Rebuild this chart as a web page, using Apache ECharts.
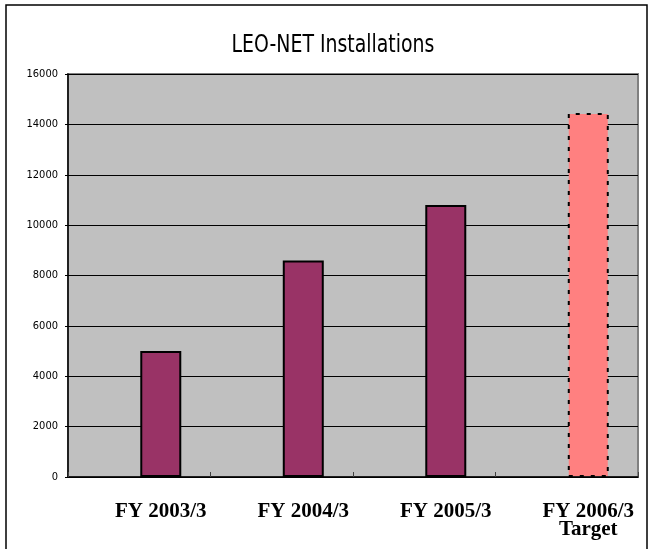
<!DOCTYPE html>
<html>
<head>
<meta charset="utf-8">
<script src="https://cdn.jsdelivr.net/npm/echarts@6/dist/echarts.min.js"></script>
<style>
html,body{margin:0;padding:0;background:#fff;}
#chart{width:651px;height:549px;}
</style>
</head>
<body>
<div id="chart"></div>
<script>
var titleText = 'LEO-NET Installations';
var categories = ['FY 2003/3', 'FY 2004/3', 'FY 2005/3', 'FY 2006/3\nTarget'];
var installations = [5000, 8600, 10800, 14450];
var yTicks = { min: 0, max: 16000, interval: 2000 };

var chart = echarts.init(document.getElementById('chart'), null, { renderer: 'canvas' });
var narrow = '"DejaVu Sans Condensed", "Liberation Sans Narrow", sans-serif';

var barData = installations.map(function (v, i) {
  if (i === installations.length - 1) {
    return {
      value: v,
      itemStyle: {
        color: '#FF8080',
        borderColor: '#000',
        borderWidth: 2,
        borderType: [4, 7]
      }
    };
  }
  return v;
});

chart.setOption({
  animation: false,
  backgroundColor: '#fff',
  graphic: [{
    type: 'rect',
    shape: { x: 6, y: 5, width: 641, height: 600 },
    style: { fill: 'none', stroke: '#000', lineWidth: 1.5 },
    silent: true,
    z: 100
  }, {
    type: 'text',
    x: 333,
    y: 45,
    scaleX: 0.84,
    style: {
      text: titleText,
      fontFamily: narrow,
      fontSize: 25,
      fill: '#000',
      textAlign: 'center',
      textVerticalAlign: 'middle'
    },
    silent: true
  }],
  grid: {
    left: 68, right: 13, top: 74, bottom: 72,
    show: true,
    backgroundColor: '#C0C0C0',
    borderColor: '#808080',
    borderWidth: 2
  },
  xAxis: {
    type: 'category',
    data: categories,
    axisLine: { show: true, lineStyle: { color: '#000', width: 1.5 } },
    axisTick: { show: true, inside: true, length: 5, lineStyle: { color: '#404040', width: 1 } },
    axisLabel: {
      interval: 0,
      margin: 26,
      color: '#000',
      fontFamily: '"Liberation Serif", "Times New Roman", serif',
      fontWeight: 'bold',
      fontSize: 21,
      lineHeight: 18,
      padding: [0, 0, 0, 43]
    },
    splitLine: { show: false }
  },
  yAxis: {
    type: 'value',
    min: yTicks.min,
    max: yTicks.max,
    interval: yTicks.interval,
    axisLine: { show: true, lineStyle: { color: '#000', width: 1.5 } },
    axisTick: { show: true, length: 3, lineStyle: { color: '#000' } },
    axisLabel: {
      margin: 10, color: '#000', fontFamily: narrow, fontSize: 11,
      formatter: function (v) { return String(v); }
    },
    splitLine: { show: true, lineStyle: { color: '#000', width: 1 } }
  },
  series: [
    {
      type: 'bar',
      name: 'spacer',
      data: installations.map(function () { return '-'; }),
      barWidth: 41,
      barGap: '5%'
    },
    {
      type: 'bar',
      name: 'Installations',
      data: barData,
      barWidth: 41,
      barGap: '5%',
      itemStyle: { color: '#993366', borderColor: '#000', borderWidth: 2 }
    }
  ]
});
</script>
</body>
</html>
